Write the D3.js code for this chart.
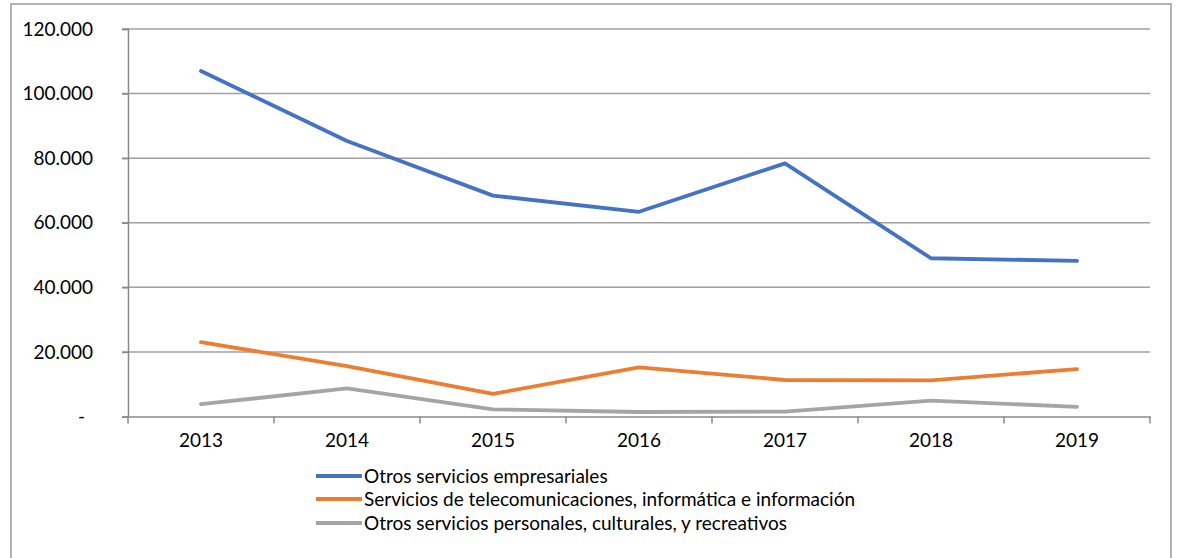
<!DOCTYPE html>
<html><head><meta charset="utf-8">
<script src="https://cdn.jsdelivr.net/npm/d3@7"></script>
<style>body{margin:0;background:#fff}svg{display:block}text{font-family:Lato,"Open Sans",sans-serif;fill:#000}</style>
</head><body><svg id="c" width="1180" height="558"></svg>
<script>
const years = ["2013","2014","2015","2016","2017","2018","2019"];
const empresariales = [107000, 85300, 68400, 63400, 78400, 49000, 48200];
const telecom = [23000, 15600, 7000, 15200, 11300, 11200, 14700];
const personales = [3800, 8700, 2200, 1400, 1500, 4900, 3000];
const yTicks = [0, 20000, 40000, 60000, 80000, 100000, 120000];
const seriesNames = ["Otros servicios empresariales","Servicios de telecomunicaciones, informática e información","Otros servicios personales, culturales, y recreativos"];
const seriesColors = ["#4472C4","#ED7D31","#A5A5A5"];
const seriesData = [empresariales, telecom, personales];

const svg = d3.select("#c");
svg.append("rect").attr("x",11).attr("y",4).attr("width",1160).attr("height",560)
  .attr("fill","none").attr("stroke","#9a9a9a").attr("stroke-width",1.5);

const L=128,R=1150,T=29,B=416.5;
const x = d3.scaleBand().domain(years).range([L,R]);
const y = d3.scaleLinear().domain([0,120000]).range([B,T]);
const fmt = v => v===0 ? "-" : d3.format(",.0f")(v).replace(/,/g,".");

// gridlines
svg.append("g").selectAll("line").data(yTicks.filter(d=>d>0)).join("line")
  .attr("x1",L-6).attr("x2",R).attr("y1",d=>y(d)).attr("y2",d=>y(d))
  .attr("stroke","#a0a0a0").attr("stroke-width",1.5);

// y axis
const ya = svg.append("g").attr("transform",`translate(${L},0)`)
  .call(d3.axisLeft(y).tickValues(yTicks).tickFormat(fmt).tickSize(6).tickPadding(0));
ya.select(".domain").attr("stroke","#8a8a8a").attr("stroke-width",1.5);
ya.selectAll(".tick line").attr("stroke","#8a8a8a").attr("stroke-width",1.5);
ya.selectAll(".tick text").attr("font-size",19).attr("x",-35)
  .attr("font-family","Lato,'Open Sans',sans-serif").attr("fill","#000");
ya.selectAll(".tick text").filter(d=>d===0).attr("x",-43);

// x axis
const xa = svg.append("g").attr("transform",`translate(0,${B})`)
  .call(d3.axisBottom(x).tickSize(0).tickPadding(17));
xa.select(".domain").attr("stroke","#8a8a8a").attr("stroke-width",1.5);
xa.selectAll(".tick text").attr("font-size",19)
  .attr("font-family","Lato,'Open Sans',sans-serif").attr("fill","#000");
const bounds = years.map(d=>x(d)).concat([R]);
xa.append("g").selectAll("line").data(bounds).join("line")
  .attr("x1",d=>d).attr("x2",d=>d).attr("y1",0).attr("y2",7)
  .attr("stroke","#8a8a8a").attr("stroke-width",1.5);

// lines
const line = d3.line().x((d,i)=>x(years[i])+x.bandwidth()/2).y(d=>y(d));
seriesData.forEach((s,k)=>{
  svg.append("path").datum(s).attr("d",line).attr("fill","none")
    .attr("stroke",seriesColors[k]).attr("stroke-width",3.8)
    .attr("stroke-linejoin","round").attr("stroke-linecap","round");
});

// legend
const lg = svg.append("g");
const rowsY = [476, 499, 523];
seriesNames.forEach((n,k)=>{
  lg.append("line").attr("x1",316).attr("x2",362).attr("y1",rowsY[k]).attr("y2",rowsY[k])
    .attr("stroke",seriesColors[k]).attr("stroke-width",3.8);
  lg.append("text").attr("x",364).attr("y",rowsY[k]+6.5).attr("font-size",19).text(n);
});
</script></body></html>
